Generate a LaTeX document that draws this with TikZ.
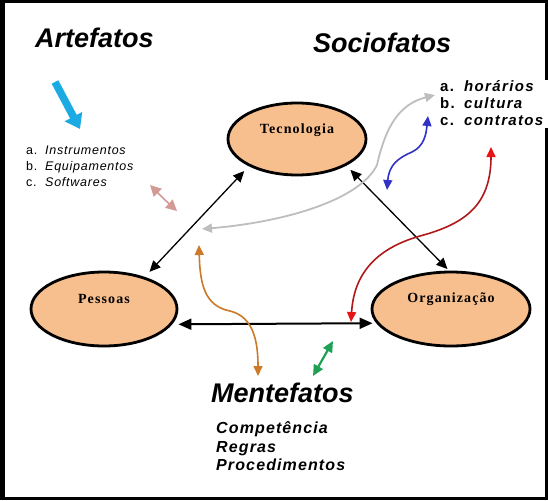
\documentclass[tikz,border=0pt]{standalone}
\usepackage{fontspec}
\setmainfont{Liberation Sans}
\newfontfamily\serifell[LetterSpace=8]{Liberation Serif}
\newfontfamily\sansA[LetterSpace=6]{Liberation Sans}
\newfontfamily\sansB[LetterSpace=9]{Liberation Sans}
\newfontfamily\sansC[LetterSpace=7]{Liberation Sans}
\usetikzlibrary{arrows.meta,shapes.geometric}
\definecolor{peach}{RGB}{247,190,142}
\definecolor{cgrayc}{RGB}{190,190,190}
\definecolor{cbluec}{RGB}{50,50,200}
\definecolor{credl}{RGB}{175,25,25}
\definecolor{credh}{RGB}{230,20,20}
\definecolor{corangec}{RGB}{205,122,40}
\definecolor{cgreenc}{RGB}{30,160,85}
\definecolor{cpinkc}{RGB}{210,155,150}
\definecolor{ccyanc}{RGB}{27,170,225}
\begin{document}
\begin{tikzpicture}[x=1pt,y=-1pt,
  ell/.style={ellipse, draw=black, line width=2.8pt, fill=peach, inner sep=0pt, outer sep=0pt},
  etxt/.style={font=\serifell\bfseries\fontsize{14}{16}\selectfont, anchor=base, inner sep=0pt},
  ttl/.style={font=\bfseries\itshape\fontsize{27}{30}\selectfont, anchor=base west, inner sep=0pt},
  itA/.style={font=\sansA\itshape\fontsize{12.5}{14}\selectfont, anchor=base west, inner sep=0pt},
  ltA/.style={font=\sansA\fontsize{12.5}{14}\selectfont, anchor=base west, inner sep=0pt},
  itB/.style={font=\sansB\bfseries\itshape\fontsize{15}{17}\selectfont, anchor=base west, inner sep=0pt},
  ltB/.style={font=\sansB\bfseries\fontsize{15}{17}\selectfont, anchor=base west, inner sep=0pt},
  itC/.style={font=\sansC\bfseries\itshape\fontsize{16}{18}\selectfont, anchor=base west, inner sep=0pt},
  blk/.style={draw=black, line width=1.3pt, {Triangle[length=11pt,width=10pt]}-{Triangle[length=11pt,width=10pt]}},
  blkh/.style={draw=black, line width=2pt, {Triangle[length=13pt,width=11pt]}-{Triangle[length=13pt,width=11pt]}},
  cgray/.style={draw=cgrayc, line width=1.8pt, {Triangle[length=10pt,width=9pt]}-{Triangle[length=10pt,width=9pt]}},
  cblue/.style={draw=cbluec, line width=1.6pt, {Triangle[length=10pt,width=9pt]}-{Triangle[length=10pt,width=9pt]}},
  cred/.style={draw=credl, line width=1.6pt, {Triangle[length=10pt,width=9pt,color=credh]}-{Triangle[length=10pt,width=9pt,color=credh]}},
  corange/.style={draw=corangec, line width=1.6pt, {Triangle[length=10pt,width=9pt]}-{Triangle[length=10pt,width=9pt]}},
  cgreen/.style={draw=cgreenc, line width=2.2pt, {Triangle[length=11pt,width=10pt]}-{Triangle[length=11pt,width=10pt]}},
  cpink/.style={draw=cpinkc, line width=1.6pt, {Triangle[length=11pt,width=11pt]}-{Triangle[length=11pt,width=11pt]}},
  ccyan/.style={draw=ccyanc, line width=7.5pt, -{Triangle[length=14pt,width=19pt]}}
]
\fill[black] (0,0) rectangle (548,500);
\fill[white] (5,3) rectangle (545,497);
\fill[white] (436,80) rectangle (548,128);
\useasboundingbox (0,0) rectangle (548,500);

% ellipses
\node[ell, minimum width=138pt, minimum height=72pt] (te) at (297,139) {};
\node[ell, minimum width=146pt, minimum height=74pt] (pe) at (104,309) {};
\node[ell, minimum width=158pt, minimum height=74pt] (or) at (451,309) {};
\node[etxt] (tet) at (297,133) {Tecnologia};
\node[etxt] (pet) at (104,303) {Pessoas};
\node[etxt] (ort) at (451,302) {Organização};

% black connectors
\draw[blk, shorten <=8.4pt, shorten >=8pt] (pe.38.4) -- (te.209.8);
\draw[blk, shorten <=7.2pt, shorten >=4.1pt] (te.332.7) -- (or.91.7);
\draw[blkh, shorten <=8pt, shorten >=5.5pt] (pe.347.6) -- (or.191.5);

% titles
\node[ttl] (art) at (35,48) {Artefatos};
\node[ttl] (soc) at (313,53) {Sociofatos};
\node[ttl] (men) at (211,402) {Mentefatos};

% artefatos list
\node[ltA] (la1) at (26,154) {a.};
\node[ltA] (la2) at (26,170) {b.};
\node[ltA] (la3) at (26,186) {c.};
\node[itA] (ia1) at (45,154) {Instrumentos};
\node[itA] (ia2) at (45,170) {Equipamentos};
\node[itA] (ia3) at (45,186) {Softwares};

% sociofatos list
\node[ltB] (lb1) at (440,92) {a.};
\node[ltB] (lb2) at (440,109) {b.};
\node[ltB] (lb3) at (440,125) {c.};
\node[itB] (ib1) at (464,92) {horários};
\node[itB] (ib2) at (464,109) {cultura};
\node[itB] (ib3) at (464,125) {contratos};

% mentefatos list
\node[itC] (ic1) at (216,433) {Competência};
\node[itC] (ic2) at (216,452) {Regras};
\node[itC] (ic3) at (216,470) {Procedimentos};

% coloured connectors
\coordinate (cy1) at (55,82);
\coordinate (cy2) at (80,129);
\draw[ccyan] (cy1) -- (cy2);

\coordinate (pk1) at (150,185);
\coordinate (pk2) at (177,211);
\draw[cpink] (pk1) .. controls (160,195) and (166,201) .. (pk2);

\coordinate (g1) at (202,229);
\coordinate (g2) at (435,95);
\draw[cgray] (g1) .. controls (285,222) and (360,200) .. (377,165) .. controls (386,125) and (400,104) .. (g2);

\coordinate (b1) at (387,190);
\coordinate (b2) at (428,116);
\draw[cblue] (b1) .. controls (389,165) and (398,158) .. (412,152) .. controls (424,146) and (426,135) .. (b2);

\coordinate (r1) at (351,322);
\coordinate (r2) at (491,147);
\draw[cred] (r1) .. controls (354,272) and (378,248) .. (420,236) .. controls (465,224) and (491,205) .. (r2);

\coordinate (o1) at (199,245);
\coordinate (o2) at (258,376);
\draw[corange] (o1) .. controls (200,285) and (205,306) .. (230,311) .. controls (255,317) and (258,345) .. (o2);

\coordinate (gn1) at (313,376);
\coordinate (gn2) at (333,341);
\draw[cgreen] (gn1) -- (gn2);
\end{tikzpicture}
\end{document}
